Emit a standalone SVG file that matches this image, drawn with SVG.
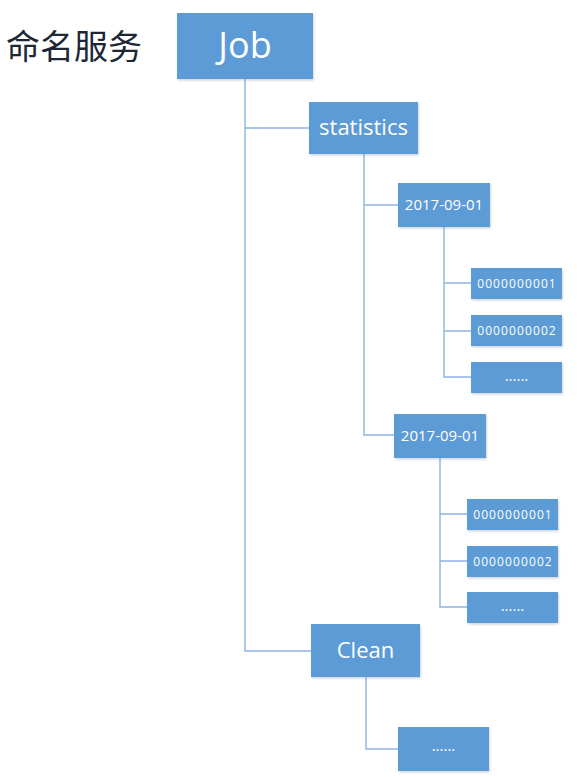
<svg xmlns="http://www.w3.org/2000/svg" width="577" height="777" viewBox="0 0 577 777">
<defs>
<filter id="sh" x="-10%" y="-10%" width="130%" height="140%">
<feDropShadow dx="1" dy="1.5" stdDeviation="1.2" flood-color="#7a8aa0" flood-opacity="0.35"/>
</filter>
<style>
.box{fill:#5B9BD5;filter:url(#sh);}
.t{font-family:"Open Sans","Liberation Sans",sans-serif;fill:#ffffff;text-anchor:middle;}
.big{font-size:36px;}
.mid{font-size:22px;}
.sm{font-size:15px;}
.xs{font-size:12px;letter-spacing:1.1px;}
.ln{fill:none;stroke:#8DB3E2;stroke-width:1.4;}
</style>
</defs>
<rect width="577" height="777" fill="#ffffff"/>
<text x="74" y="59" font-family="'Noto Sans CJK SC',sans-serif" font-size="34" fill="#1C2836" text-anchor="middle">命名服务</text>
<g id="connectors">
<path class="ln" d="M245,79 V651 H311 M245,128 H309"/>
<path class="ln" d="M364,154 V435 H394 M364,205 H398"/>
<path class="ln" d="M444,227 V377 H471 M444,283 H471 M444,331 H471"/>
<path class="ln" d="M440,458 V607 H467 M440,514 H467 M440,561 H467"/>
<path class="ln" d="M366,677 V749 H398"/>
</g>
<g id="job"><rect class="box" x="177" y="13" width="136" height="66"/><text class="t big" x="245" y="58">Job</text></g>
<g id="statistics"><rect class="box" x="309" y="102" width="109" height="52"/><text class="t mid" x="363.5" y="135">statistics</text></g>
<g id="date1"><rect class="box" x="398" y="183" width="92" height="44"/><text class="t sm" x="444" y="210">2017-09-01</text></g>
<g id="d1n1"><rect class="box" x="471" y="268" width="91" height="31"/><text class="t xs" x="517" y="288">0000000001</text></g>
<g id="d1n2"><rect class="box" x="471" y="315" width="91" height="31"/><text class="t xs" x="517" y="335">0000000002</text></g>
<g id="d1n3"><rect class="box" x="471" y="362" width="91" height="31"/><text class="t sm" x="516.5" y="381">......</text></g>
<g id="date2"><rect class="box" x="394" y="414" width="92" height="44"/><text class="t sm" x="440" y="441">2017-09-01</text></g>
<g id="d2n1"><rect class="box" x="467" y="499" width="91" height="31"/><text class="t xs" x="513" y="519">0000000001</text></g>
<g id="d2n2"><rect class="box" x="467" y="546" width="91" height="31"/><text class="t xs" x="513" y="566">0000000002</text></g>
<g id="d2n3"><rect class="box" x="467" y="592" width="91" height="31"/><text class="t sm" x="512.5" y="611">......</text></g>
<g id="clean"><rect class="box" x="311" y="624" width="109" height="53"/><text class="t mid" x="365.5" y="658">Clean</text></g>
<g id="cleanchild"><rect class="box" x="398" y="727" width="91" height="44"/><text class="t sm" x="443.5" y="751">......</text></g>
</svg>
